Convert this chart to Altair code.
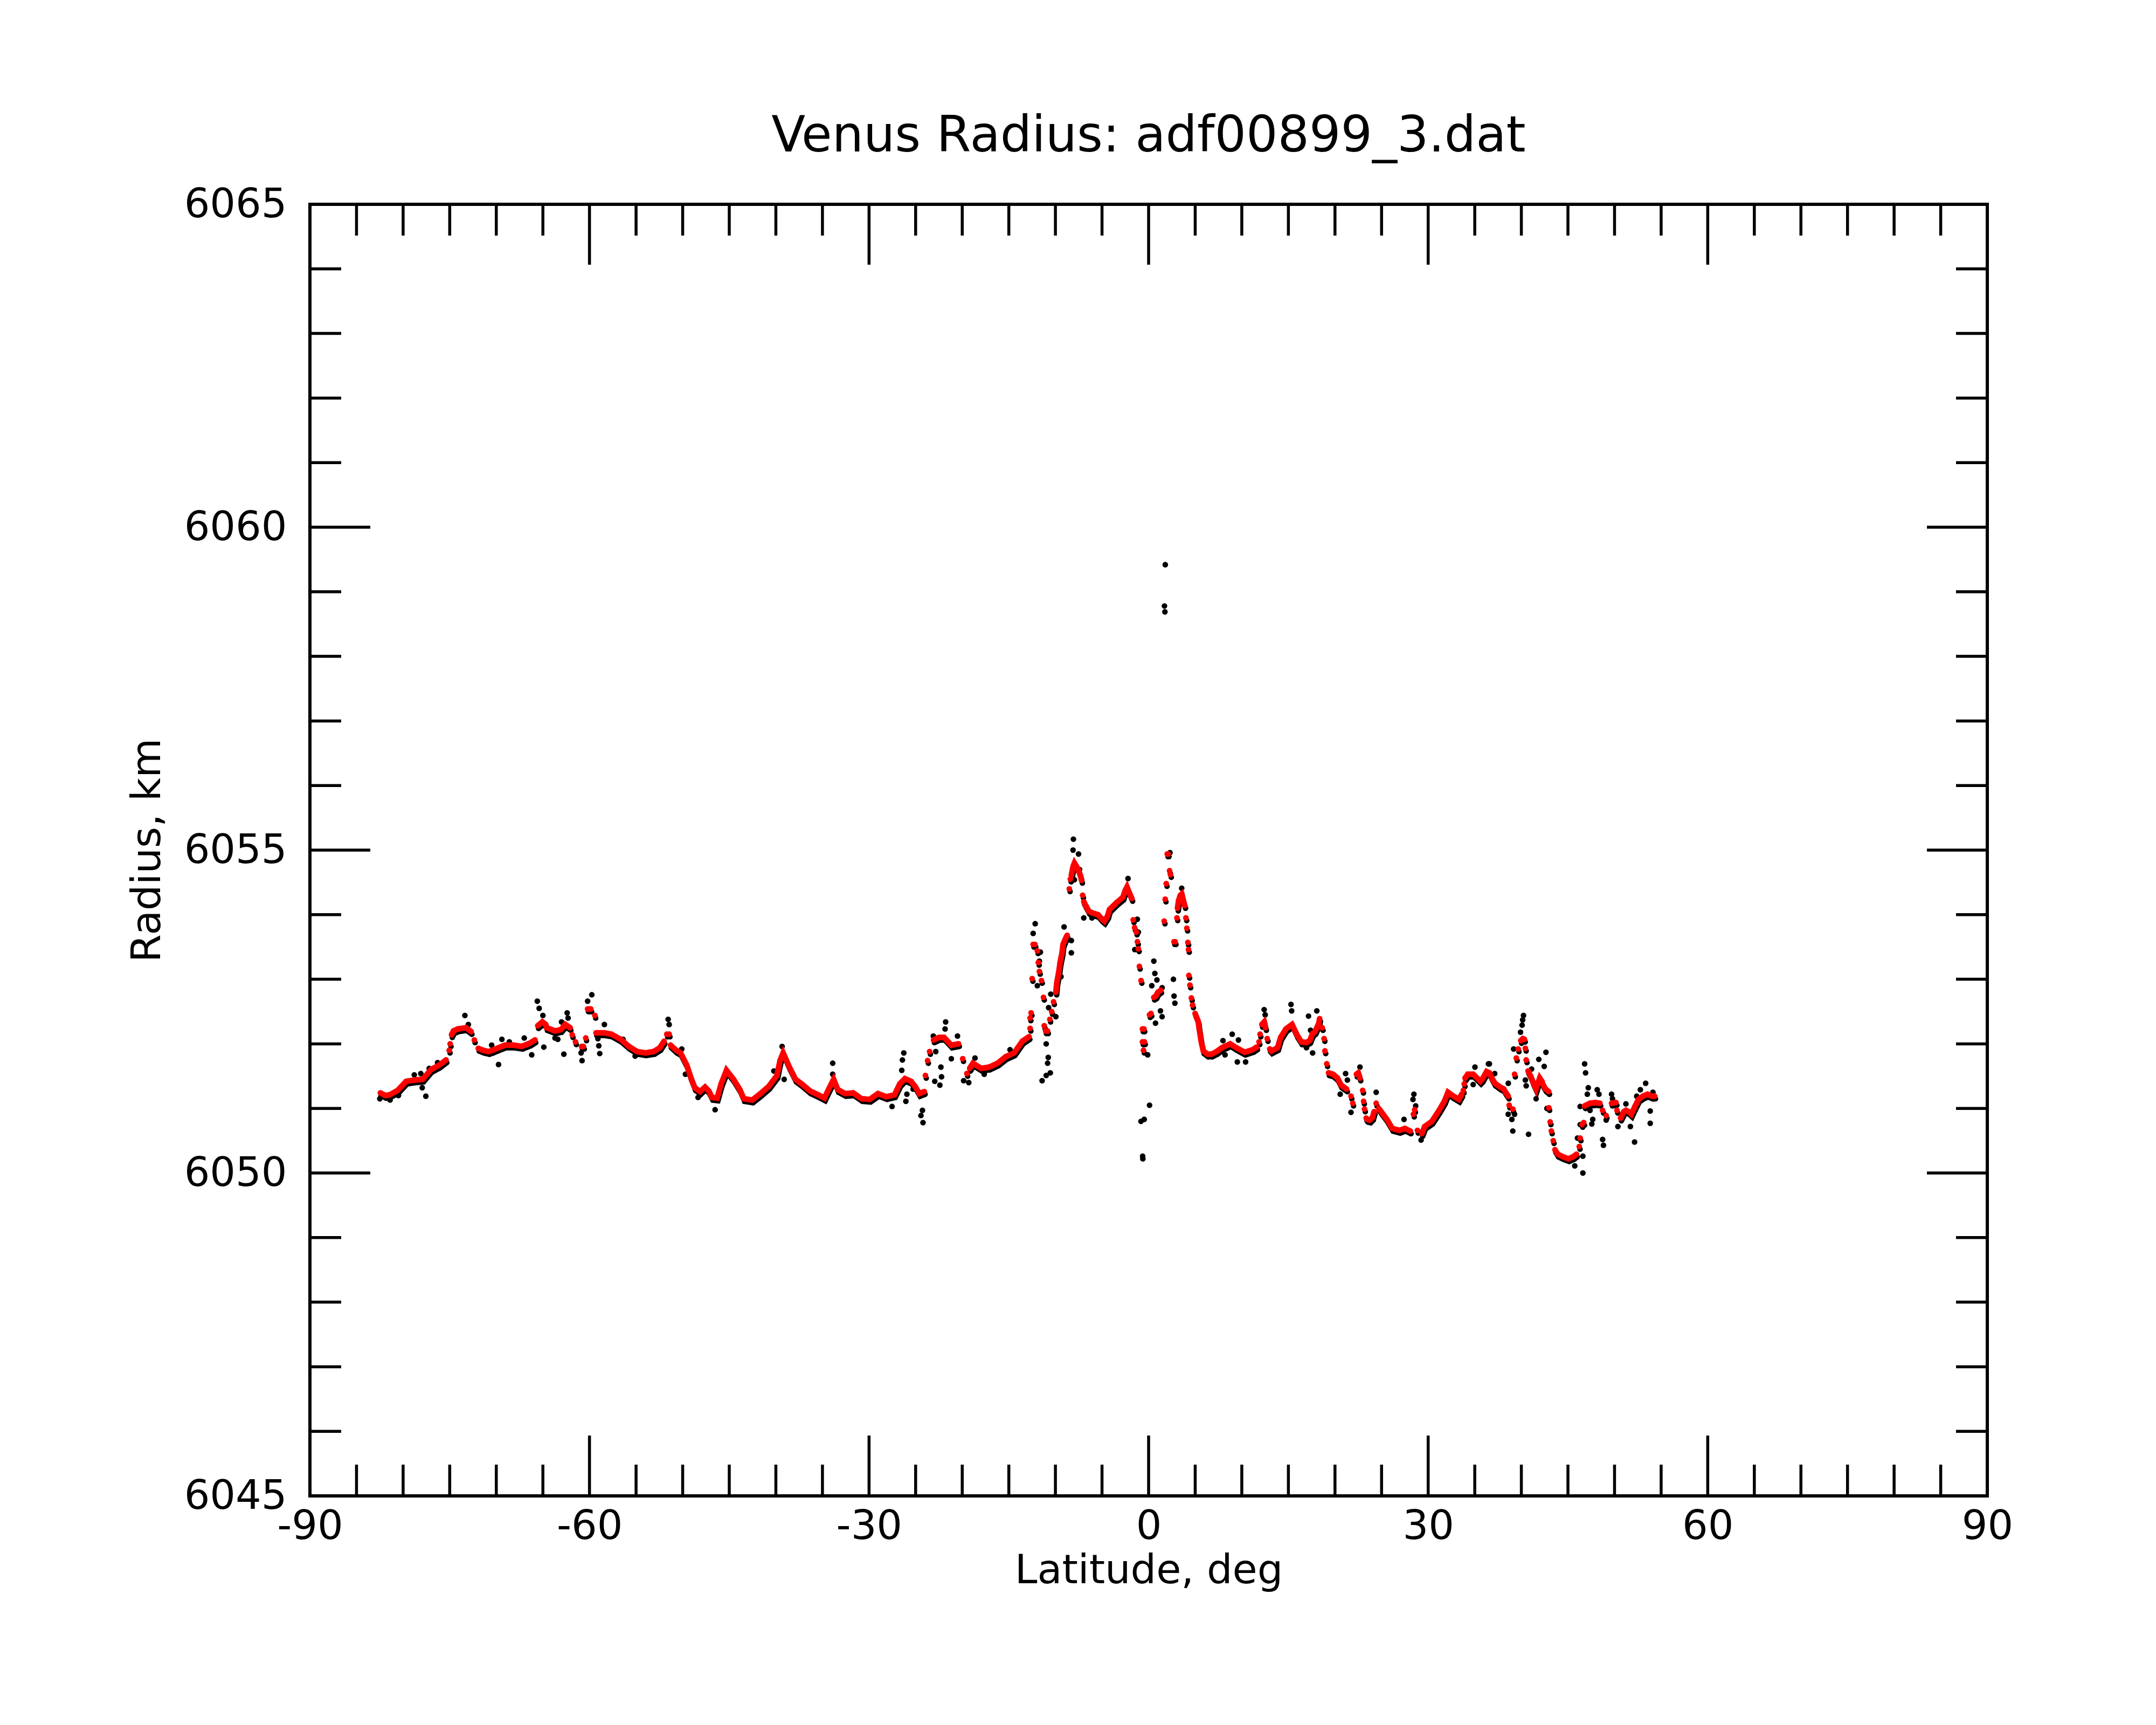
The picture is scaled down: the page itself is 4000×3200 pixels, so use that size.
import altair as alt
import pandas as pd

# ---------------- data ----------------
# smoothed profile (red); points are listed run by run, red_len gives run lengths
red_lat = [
    -82.44, -81.9, -81.44, -80.57, -79.67, -78.78, -77.9, -77.02, -76.13, -75.4,
    -75.05,
    -74.95,
    -74.8, -74.6, -74.15, -73.25, -72.7,
    -72.36,
    -71.93, -71.4, -70.82, -70.4, -69.93, -69.06, -68.16, -67.27, -66.4, -65.85,
    -65.55, -65.06, -64.7, -64.6, -63.7, -63.07, -62.6, -62.08,
    -61.85,
    -61.5,
    -60.85, -60.65,
    -60.4,
    -60.2, -59.86,
    -59.42,
    -59.3, -58.42, -57.65, -56.65, -55.77, -54.89, -54.0, -53.11, -52.45, -52.0,
    -51.7,
    -51.45,
    -51.3, -50.7, -50.23, -49.56, -49.13, -48.7, -48.13, -47.6, -47.2, -46.85,
    -46.3, -45.87, -45.3, -44.54, -43.86, -43.44, -42.53, -41.65, -40.77, -39.88,
    -39.55, -39.22, -38.55, -37.89, -37.23, -36.34, -35.46, -34.79, -34.36, -33.8,
    -33.35, -32.57, -31.7, -30.8, -29.92, -29.04, -28.15, -27.27, -26.7, -26.15,
    -25.5, -25.05, -24.6, -24.07,
    -23.95,
    -23.72,
    -23.5,
    -23.07, -22.5, -21.95, -21.17, -20.4,
    -19.95,
    -19.5,
    -19.2, -18.85, -17.96, -17.08, -16.2, -15.33, -14.43, -13.55, -12.83,
    -12.72, -12.72, -12.61, -12.5, -12.39, -12.2, -11.94, -11.83, -11.72, -11.5, -11.28, -11.2, -11.05, -10.85,
    -10.6, -10.4, -10.2,
    -9.95, -9.85, -9.73, -9.6, -9.51, -9.4, -9.29, -9.18, -8.95, -8.74,
    -8.51, -8.4,
    -8.29, -8.1, -7.96, -7.75, -7.52, -7.3, -7.19,
    -7.08,
    -6.95, -6.74, -6.4, -6.08, -5.42, -5.0, -4.75, -4.4, -4.2, -3.42, -2.76, -2.5, -2.32, -2.1, -1.8,
    -1.65, -1.5, -1.32, -1.2, -1.1, -0.99, -0.81, -0.66, -0.5, -0.66, -0.45, -0.55, 0.1, 0.25,
    0.56, 0.78, 1.0, 1.3,
    1.67, 1.78, 1.89, 2.0, 2.1, 2.25, 2.35, 2.72, 2.85, 3.04,
    3.1, 3.22, 3.4, 3.55, 3.75, 3.88,
    4.0, 4.1, 4.21, 4.28, 4.32, 4.43, 4.59, 4.72,
    4.99, 5.32, 5.43, 5.65, 5.87, 6.3, 6.76, 7.3, 7.87, 8.3, 8.75, 9.41, 10.3, 11.18, 11.6,
    11.85, 11.96,
    12.15, 12.4, 12.55,
    12.73,
    13.0, 13.18, 13.84, 14.17, 14.73, 15.39, 15.95, 16.39, 16.94, 17.29, 17.6, 17.86, 18.27, 18.35,
    18.63, 18.83, 18.92, 19.12,
    19.31, 19.79, 20.27, 20.66, 21.24,
    21.72, 21.91,
    22.3, 22.5, 22.68,
    22.97, 23.07, 23.17,
    23.35, 23.45, 23.75, 24.03, 24.2,
    24.42,
    24.7, 25.0, 25.57, 26.15, 26.92, 27.5, 28.08,
    28.42, 28.55, 28.85,
    29.33, 29.62, 30.4, 31.17, 31.74, 32.13, 32.71, 33.29, 33.6,
    33.77, 33.87,
    33.96, 34.25, 34.83, 35.6, 35.8, 36.27, 36.57, 36.95, 37.15, 37.53, 37.73, 38.11, 38.31, 38.59,
    38.69, 39.08, 39.27, 39.46, 39.66,
    39.94, 40.15, 40.33,
    40.43, 40.52,
    40.72, 41.0, 41.3, 41.58, 41.8, 41.97, 42.2, 42.35, 42.6, 42.93,
    42.95, 43.09, 43.22, 43.42,
    43.61, 43.9, 44.2, 44.48, 45.05, 45.54, 45.92,
    46.21, 46.31, 46.5, 46.69,
    46.79, 47.37, 47.95, 48.43,
    48.72, 49.1,
    49.68, 50.16,
    50.26,
    50.65, 51.0, 51.22, 51.5, 51.8, 52.19, 52.57, 53.05, 53.54, 54.02, 54.31,
]
red_rad = [
    6051.24, 6051.2, 6051.21, 6051.28, 6051.42, 6051.44, 6051.45, 6051.6, 6051.67, 6051.75,
    6051.9,
    6052.0,
    6052.14, 6052.2, 6052.23, 6052.25, 6052.19,
    6052.06,
    6051.93, 6051.9, 6051.88, 6051.9, 6051.93, 6051.98, 6051.98, 6051.96, 6052.01, 6052.06,
    6052.28, 6052.34, 6052.3, 6052.25, 6052.2, 6052.22, 6052.3, 6052.25,
    6052.14,
    6052.03,
    6051.96, 6051.96,
    6052.09,
    6052.54, 6052.54,
    6052.44,
    6052.17, 6052.17, 6052.15, 6052.07, 6051.96, 6051.88, 6051.86, 6051.88, 6051.94, 6052.04,
    6052.15,
    6052.15,
    6051.98, 6051.9, 6051.86, 6051.67, 6051.48, 6051.32, 6051.26, 6051.33, 6051.27, 6051.17,
    6051.16, 6051.38, 6051.59, 6051.45, 6051.29, 6051.15, 6051.13, 6051.23, 6051.34, 6051.51,
    6051.74, 6051.86, 6051.64, 6051.45, 6051.38, 6051.27, 6051.21, 6051.16, 6051.29, 6051.45,
    6051.29, 6051.23, 6051.24, 6051.15, 6051.14, 6051.23, 6051.18, 6051.21, 6051.38, 6051.46,
    6051.42, 6051.34, 6051.23, 6051.26,
    6051.51,
    6051.74,
    6051.88,
    6052.06, 6052.1, 6052.1, 6051.98, 6052.0,
    6051.77,
    6051.54,
    6051.62, 6051.7, 6051.62, 6051.64, 6051.7, 6051.8, 6051.86, 6052.04, 6052.11,
    6052.24, 6052.4, 6052.48, 6053.01, 6053.54, 6053.54, 6053.44, 6053.26, 6053.12, 6052.98, 6052.72, 6052.28, 6052.2, 6052.2,
    6052.38, 6052.5, 6052.65,
    6052.8, 6052.95, 6053.04, 6053.15, 6053.25, 6053.33, 6053.41, 6053.54, 6053.62, 6053.68,
    6054.4, 6054.55,
    6054.61, 6054.75, 6054.8, 6054.75, 6054.69, 6054.6, 6054.53,
    6054.3,
    6054.2, 6054.14, 6054.05, 6054.03, 6054.0, 6053.93, 6053.9, 6053.98, 6054.08, 6054.19, 6054.27, 6054.38, 6054.43, 6054.35, 6054.25,
    6053.92, 6053.8, 6053.73, 6053.58, 6053.47, 6053.2, 6052.98, 6052.23, 6052.23, 6052.03, 6052.03, 6051.9, 6052.45, 6052.47,
    6052.72, 6052.74, 6052.8, 6052.83,
    6053.9, 6054.24, 6054.48, 6054.94, 6054.94, 6054.68, 6054.62, 6053.58, 6053.58, 6053.95,
    6054.1, 6054.22, 6054.3, 6054.32, 6054.2, 6054.14,
    6053.95, 6053.79, 6053.57, 6053.46, 6053.06, 6052.91, 6052.71, 6052.6,
    6052.47, 6052.35, 6052.23, 6052.03, 6051.89, 6051.84, 6051.84, 6051.88, 6051.94, 6051.97, 6052.0, 6051.94, 6051.87, 6051.91, 6051.95,
    6052.03, 6052.15,
    6052.3, 6052.34, 6052.25,
    6052.08,
    6051.92, 6051.89, 6051.94, 6052.1, 6052.23, 6052.3, 6052.13, 6052.03, 6052.02, 6052.05, 6052.16, 6052.19, 6052.32, 6052.39,
    6052.25, 6052.08, 6051.89, 6051.69,
    6051.55, 6051.53, 6051.47, 6051.36, 6051.3,
    6051.19, 6051.08,
    6051.53, 6051.55, 6051.47,
    6051.28, 6051.11, 6050.99,
    6050.85, 6050.83, 6050.82, 6050.86, 6050.95,
    6051.08,
    6051.0, 6050.94, 6050.83, 6050.69, 6050.66, 6050.69, 6050.65,
    6050.91, 6050.98, 6050.66,
    6050.61, 6050.72, 6050.8, 6050.97, 6051.11, 6051.25, 6051.19, 6051.14, 6051.22,
    6051.28, 6051.38,
    6051.47, 6051.53, 6051.53, 6051.42, 6051.45, 6051.57, 6051.55, 6051.44, 6051.39, 6051.35, 6051.33, 6051.3, 6051.25, 6051.19,
    6051.05, 6050.99, 6051.53, 6051.78, 6051.92,
    6052.05, 6052.08, 6052.07,
    6051.93, 6051.75,
    6051.58, 6051.5, 6051.39, 6051.3, 6051.4, 6051.47, 6051.42, 6051.36, 6051.3, 6051.26,
    6051.01, 6050.79, 6050.65, 6050.5,
    6050.36, 6050.29, 6050.27, 6050.25, 6050.22, 6050.25, 6050.29,
    6050.41, 6050.54, 6050.75, 6050.78,
    6051.04, 6051.08, 6051.09, 6051.08,
    6050.97, 6050.89,
    6051.08, 6051.09,
    6050.97,
    6050.85, 6050.95, 6050.97, 6050.95, 6050.91, 6051.03, 6051.14, 6051.19, 6051.22, 6051.19, 6051.19,
]
red_len = ([10, 1, 1, 5, 1, 10, 8, 1, 1, 2, 1, 2, 1, 10, 1, 1, 44, 1, 1, 1, 5, 1, 1, 9]
           + [1] * 14 + [1, 1, 1, 10, 1, 1, 7, 1, 15] + [1] * 14 + [4] + [1] * 10
           + [6] + [1] * 8 + [15, 1, 1, 3, 1, 14, 1, 1, 1, 1, 5, 1, 1, 3, 1, 1, 1, 5, 1, 7,
           1, 1, 1, 9, 1, 1, 14, 1, 1, 1, 1, 1, 3, 1, 1, 10, 1, 1, 1, 1, 7, 1, 1, 1, 1, 4,
           1, 1, 2, 1, 11])

# raw measurements (black) that stand apart from the smoothed profile
blk_lat = [
    -82.5, -81.4, -80.5, -78.8, -78.1, -77.95, -77.56, -77.2, -76.3, -73.37, -73.0, -70.5,
    -69.76, -69.4, -68.6, -67.0, -66.2, -65.6, -65.4, -65.0, -64.9, -63.7, -63.4, -62.75,
    -62.4, -62.3, -63.0, -60.9, -60.8, -59.75, -60.2, -58.9, -59.0, -59.1, -58.4, -56.4,
    -55.1, -51.56, -51.45, -50.1, -49.7, -48.35,
    -46.52, -39.11, -40.21, -39.33, -33.9, -33.9, -26.27, -26.42, -26.49, -27.53, -25.94,
    -26.05, -24.27, -24.43, -24.21, -21.78, -21.84, -23.1, -20.51, -22.84, -22.29, -22.22,
    -22.95, -22.4, -21.17, -19.85, -19.3, -18.63, -17.64, -14.87, -25.27,
    -12.17, -12.39, -11.61, -11.72, -11.94, -10.73, -9.95, -10.5, -10.99, -10.77, -10.84,
    -10.55, -10.99, -11.43, -9.07, -8.29, -8.29, -9.4, -8.07, -8.11, -7.52, -7.41, -7.96,
    -6.96, -6.08, -2.21, -1.21, -1.1, -1.48, 0.56, 0.67, 0.89, 0.34, 1.45, 1.27, 1.45, 0.74,
    -0.1, 2.66, 2.73, 2.82, 2.29, 3.55, 7.98, 8.97, 9.64, 9.52, 10.41, 8.2, 12.4, 12.51,
    15.28, 15.35, 17.16, 18.05, 17.38, 17.6, 16.94, 0.1,
    -0.82, -0.47, -0.64, -0.62,
    1.79, 1.7, 1.75,
    21.14, 21.33, 20.56, 21.72, 22.68, 24.42, 27.41, 28.47, 28.37, 28.66, 29.24, 34.83,
    35.02, 36.47, 37.14, 38.59,
    36.57, 38.6, 39.27, 38.98, 39.08, 40.77, 39.17, 40.23, 40.14, 40.08, 39.91, 40.43,
    40.52, 41.58, 41.1, 41.87, 42.45, 42.64, 42.74, 46.6, 45.73, 46.6, 46.02, 46.31, 46.31,
    46.79, 46.89, 47.18, 47.08, 47.37, 47.66, 47.56, 48.14, 48.33, 48.72, 48.81, 49.1,
    49.68, 49.78, 50.36, 51.22, 51.7, 52.15, 52.77, 53.34, 53.83, 53.83, 52.38, 54.12,
]
blk_rad = [
    6051.15, 6051.13, 6051.2, 6051.52, 6051.54, 6051.32, 6051.19, 6051.62, 6051.71, 6052.44, 6052.3, 6051.98,
    6051.68, 6052.07, 6052.03, 6052.09, 6051.83, 6052.66, 6052.55, 6052.44, 6051.95, 6052.09, 6052.07, 6051.84,
    6052.48, 6052.4, 6052.34, 6051.86, 6051.74, 6052.76, 6052.66, 6051.85, 6051.97, 6052.08, 6052.3, 6052.07,
    6051.81, 6052.38, 6052.3, 6051.92, 6051.53, 6051.17,
    6050.98, 6051.45, 6051.58, 6051.96, 6051.7, 6051.53, 6051.86, 6051.75, 6051.59, 6051.03, 6051.22,
    6051.11, 6050.97, 6050.89, 6050.78, 6052.34, 6052.23, 6052.12, 6052.12, 6051.88, 6051.64, 6051.49,
    6051.42, 6051.36, 6051.77, 6051.43, 6051.4, 6051.78, 6051.53, 6051.91, 6051.3,
    6053.86, 6053.71, 6053.42, 6053.28, 6052.9, 6052.56, 6052.42, 6052.77, 6052.0, 6051.79, 6051.7,
    6051.55, 6051.51, 6051.43, 6053.81, 6053.6, 6053.41, 6053.04, 6055.17, 6055.0, 6054.94, 6054.7, 6054.54,
    6053.95, 6053.95, 6054.56, 6053.93, 6053.73, 6053.46, 6053.28, 6053.09, 6052.99, 6052.9, 6052.87, 6052.51, 6052.42, 6052.32,
    6051.83, 6053.0, 6052.74, 6052.63, 6054.96, 6054.41, 6052.05, 6052.15, 6052.06, 6051.72, 6051.72, 6051.83, 6052.53, 6052.45,
    6052.61, 6052.51, 6052.43, 6052.51, 6052.21, 6051.86, 6051.94, 6051.05,
    6050.8, 6050.83, 6050.26, 6050.22,
    6059.42, 6058.78, 6058.69,
    6051.54, 6051.44, 6051.22, 6050.94, 6051.64, 6051.25, 6050.83, 6051.22, 6051.14, 6051.04, 6050.51, 6051.37,
    6051.64, 6051.69, 6051.54, 6050.91,
    6051.69, 6051.39, 6050.91, 6050.83, 6050.65, 6050.6, 6051.92, 6052.44, 6052.37, 6052.29, 6052.18, 6051.44,
    6051.35, 6051.15, 6051.61, 6051.76, 6051.65, 6051.87, 6051.0, 6050.26, 6050.11, 6050.0, 6050.54, 6050.75, 6051.03,
    6051.69, 6051.55, 6051.32, 6051.22, 6050.97, 6050.83, 6050.76, 6051.29, 6051.22, 6050.52, 6050.43, 6050.82,
    6051.22, 6051.15, 6050.72, 6051.07, 6050.72, 6050.48, 6051.29, 6051.39, 6050.96, 6050.77, 6051.19, 6051.25,
]

# axis ticks
x_major = [-90, -60, -30, 0, 30, 60, 90]
x_minor = [-85, -80, -75, -70, -65, -55, -50, -45, -40, -35, -25, -20, -15, -10, -5,
           5, 10, 15, 20, 25, 35, 40, 45, 50, 55, 65, 70, 75, 80, 85]
y_major = [6045, 6050, 6055, 6060, 6065]
y_minor = [6046, 6047, 6048, 6049, 6051, 6052, 6053, 6054, 6056, 6057, 6058, 6059,
           6061, 6062, 6063, 6064]

# ---------------- build tables ----------------
run_ids = []
for i, n in enumerate(red_len):
    run_ids += [i] * n
assert len(run_ids) == len(red_lat) == len(red_rad), (len(run_ids), len(red_lat), len(red_rad))
assert len(blk_lat) == len(blk_rad), (len(blk_lat), len(blk_rad))

red_df = pd.DataFrame({"lat": red_lat, "rad": red_rad, "run": run_ids})
blk_df = pd.DataFrame({"lat": blk_lat, "rad": blk_rad})
xmaj_df = pd.DataFrame({"lat": x_major})
xmin_df = pd.DataFrame({"lat": x_minor})
ymaj_df = pd.DataFrame({"rad": y_major})
ymin_df = pd.DataFrame({"rad": y_minor})

W, H = 3112, 2396
FONT = "DejaVu Sans"
MAJ, MIN = 112, 58
TW = 5.5

xs = alt.Scale(domain=[-90, 90], nice=False, zero=False)
ys = alt.Scale(domain=[6045, 6065], nice=False, zero=False)

xaxis = alt.Axis(values=x_major, labelExpr="'' + datum.value", ticks=False, tickSize=0,
                 domain=False, grid=False, labelFlush=False, labelOverlap=False,
                 labelLimit=1000,
                 labelPadding=20, labelFontSize=75, labelFont=FONT, labelColor="black",
                 title="Latitude, deg", titleFontSize=75, titleFont=FONT,
                 titleFontWeight="normal", titleColor="black", titleY=161,
                 titleBaseline="alphabetic")
yaxis = alt.Axis(values=y_major, labelExpr="'' + datum.value", ticks=False, tickSize=0,
                 domain=False, grid=False, labelFlush=False, labelOverlap=False,
                 labelLimit=1000,
                 labelPadding=43, labelFontSize=75, labelFont=FONT, labelColor="black",
                 title="Radius, km", titleFontSize=75, titleFont=FONT,
                 titleFontWeight="normal", titleColor="black", titleX=-279,
                 titleY=H / 2, titleAngle=270, titleAlign="center",
                 titleBaseline="alphabetic")

X = alt.X("lat:Q", scale=xs, axis=xaxis)
Y = alt.Y("rad:Q", scale=ys, axis=yaxis)

blk_pts = alt.Chart(blk_df).mark_circle(color="black", size=110, opacity=1).encode(x=X, y=Y)
shadow_line = alt.Chart(red_df).mark_line(color="black", strokeWidth=10, strokeCap="round",
                                          xOffset=1.5, yOffset=5).encode(x=X, y=Y, detail="run:N")
shadow_pts = alt.Chart(red_df).mark_circle(color="black", size=95, opacity=1,
                                           xOffset=1.5, yOffset=5).encode(x=X, y=Y)
red_line = alt.Chart(red_df).mark_line(color="#ff0000", strokeWidth=10.5,
                                       strokeCap="round").encode(x=X, y=Y, detail="run:N")
red_pts = alt.Chart(red_df).mark_circle(color="#ff0000", size=100, opacity=1).encode(x=X, y=Y)

def xticks(df, length):
    base = alt.Chart(df).mark_rule(color="black", strokeWidth=TW)
    bottom = base.encode(x=X, y=alt.value(H), y2=alt.value(H - length))
    top = base.encode(x=X, y=alt.value(0), y2=alt.value(length))
    return [bottom, top]

def yticks(df, length):
    base = alt.Chart(df).mark_rule(color="black", strokeWidth=TW)
    left = base.encode(y=Y, x=alt.value(0), x2=alt.value(length))
    right = base.encode(y=Y, x=alt.value(W), x2=alt.value(W - length))
    return [left, right]

layers = [blk_pts, shadow_line, shadow_pts, red_line, red_pts]
layers += xticks(xmaj_df, MAJ) + xticks(xmin_df, MIN) + yticks(ymaj_df, MAJ) + yticks(ymin_df, MIN)

chart = alt.layer(*layers).properties(
    width=W, height=H,
    title=alt.TitleParams("Venus Radius: adf00899_3.dat", fontSize=92, font=FONT,
                          fontWeight="normal", color="black", anchor="middle",
                          frame="group", offset=42),
    autosize=alt.AutoSizeParams(type="none"),
    padding={"left": 567, "top": 371, "right": 305, "bottom": 417},
    background="white",
).configure_view(stroke="black", strokeWidth=6)

chart.save("out.html", embed_options={"renderer": "svg", "actions": False})
